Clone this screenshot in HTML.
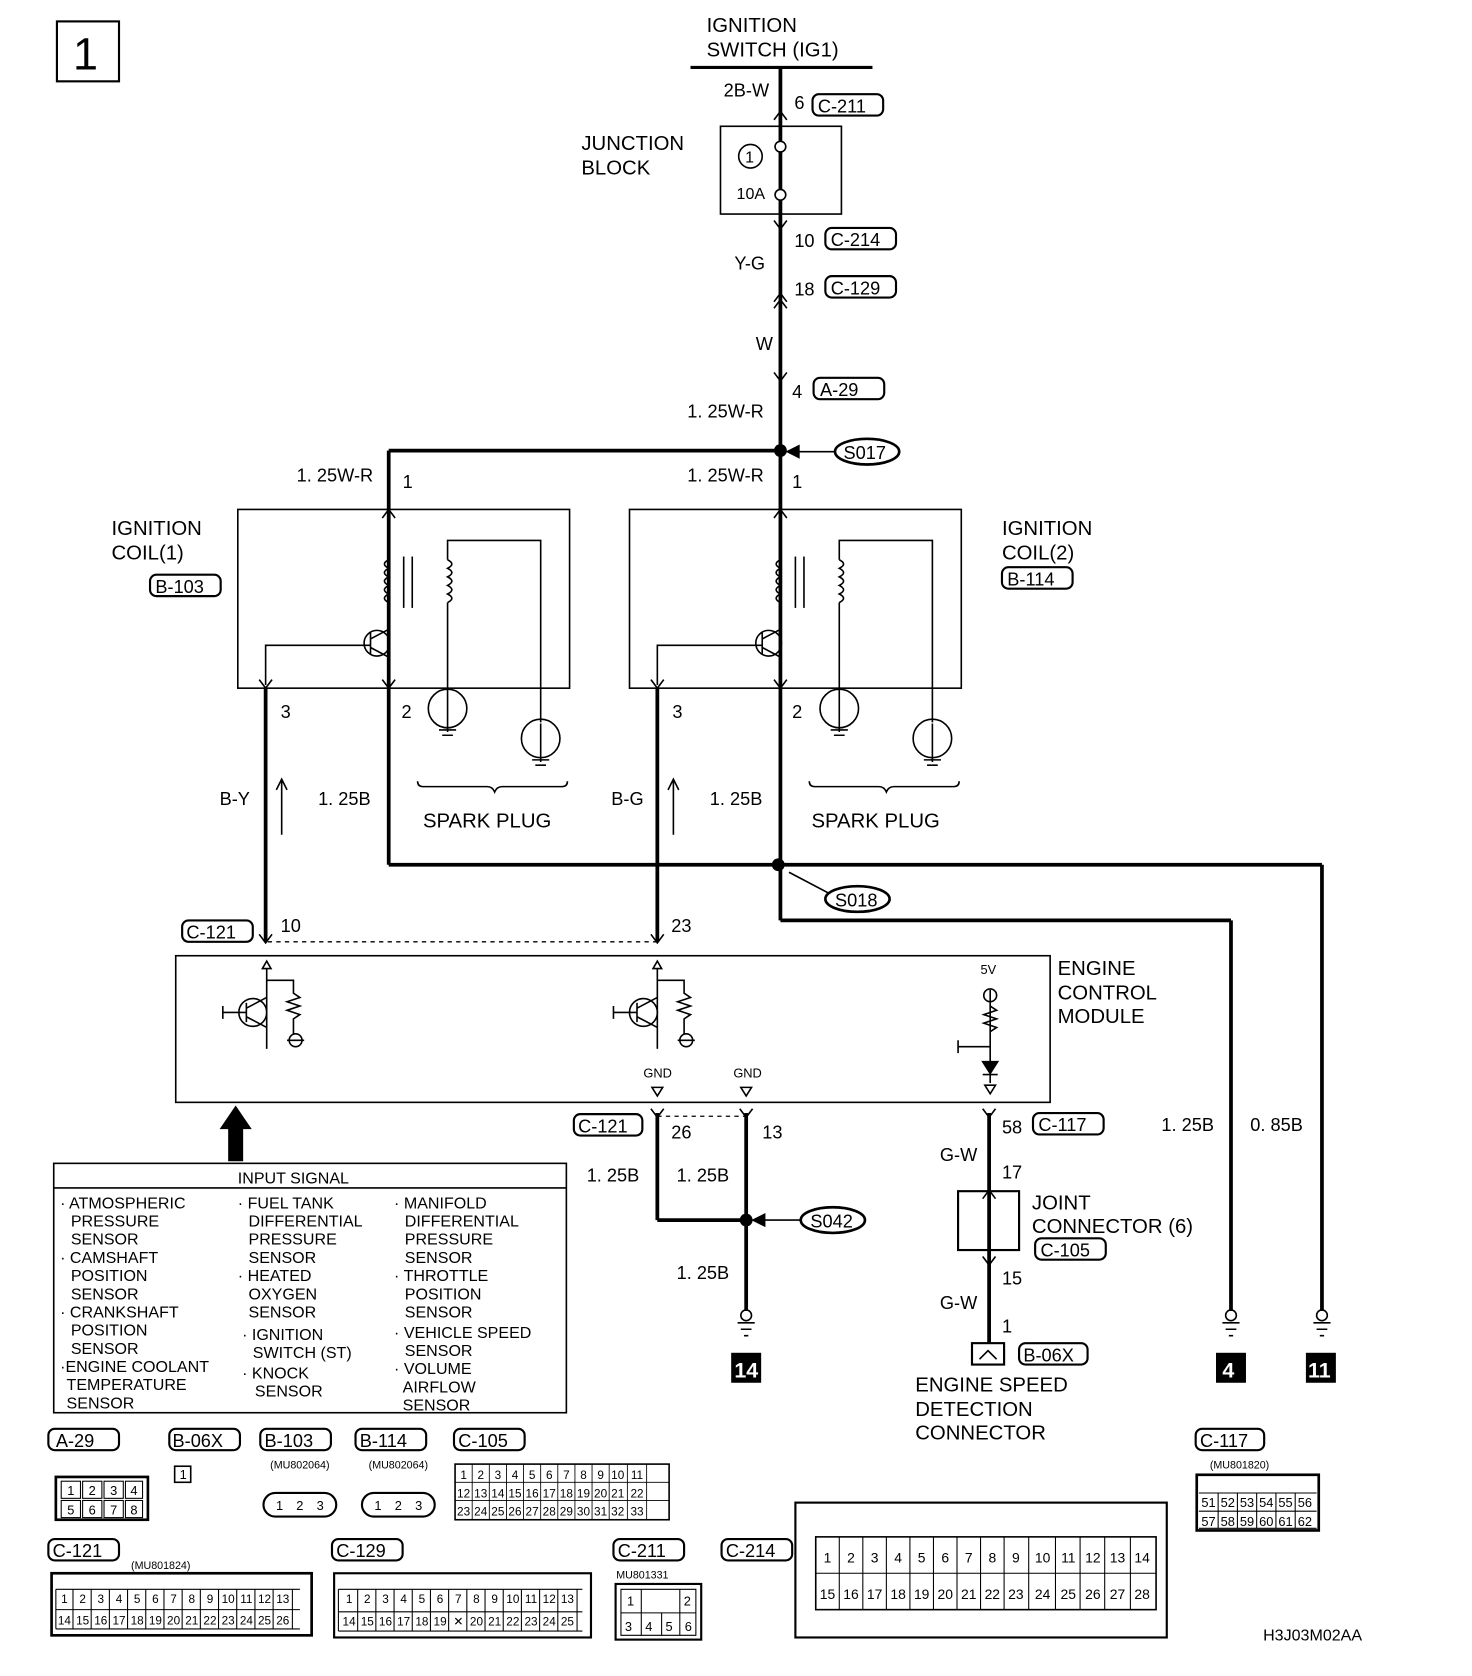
<!DOCTYPE html>
<html><head><meta charset="utf-8"><style>
html,body{margin:0;padding:0;background:#fff}
svg{display:block}
text{font-family:"Liberation Sans",sans-serif;fill:#000}
.l{font-size:19px}
.s{font-size:15px}
.xs{font-size:12px}
.c{font-size:17px;font-family:"Liberation Sans Narrow","Liberation Sans",sans-serif}
</style></head><body>
<svg width="1472" height="1676" viewBox="0 0 1375 1566" xmlns="http://www.w3.org/2000/svg">
<g fill="none" stroke="#000" stroke-width="2">
<rect x="53" y="20" width="58" height="56"/>
<line x1="645" y1="63" x2="815" y2="63" stroke-width="3"/>
<line x1="729" y1="63" x2="729" y2="421" stroke-width="3.5"/>
<rect x="673" y="118" width="113" height="82" stroke-width="1.5"/>
<circle cx="701" cy="146" r="11" stroke-width="1.5"/>
<circle cx="729" cy="137" r="5" fill="#fff" stroke-width="1.5"/>
<circle cx="729" cy="182" r="5" fill="#fff" stroke-width="1.5"/>
<path d="M723 112 L729 104 L735 112 M723 206 L729 214 L735 206 M723 288 L729 280 L735 288 M723 282 L729 274 L735 282 M723 348 L729 356 L735 348" stroke-width="1.5"/>
<line x1="363" y1="421" x2="729" y2="421" stroke-width="3.5"/>
<line x1="363" y1="421" x2="363" y2="808" stroke-width="3.5"/>
<line x1="729" y1="421" x2="729" y2="860" stroke-width="3.5"/>
<line x1="735" y1="422" x2="780" y2="422" stroke-width="1.5"/>
<path d="M736 422 L746 417 L746 427 Z" fill="#000"/>
<ellipse cx="810" cy="422" rx="30" ry="12" stroke-width="2.5"/>
<rect x="222" y="476" width="310" height="167" stroke-width="1.5"/>
<rect x="588" y="476" width="310" height="167" stroke-width="1.5"/>
<g id="coil" stroke-width="1.5">
<path d="M357 484 L363 476 L369 484 M357 635 L363 643 L369 635 M242 635 L248 643 L254 635"/>
<path d="M363 523 q-8 4 0 8 q-8 4 0 8 q-8 4 0 8 q-8 4 0 8 q-8 4 0 8"/>
<line x1="377" y1="520" x2="377" y2="568"/><line x1="385" y1="520" x2="385" y2="568"/>
<path d="M418 523 q8 4 0 8 q8 4 0 8 q8 4 0 8 q8 4 0 8 q8 4 0 8"/>
<path d="M418 523 L418 505 L505 505 L505 675"/>
<line x1="418" y1="563" x2="418" y2="648"/>
<circle cx="352" cy="601" r="12"/>
<path d="M346 591 L346 611 M346 597 L363 588 M346 605 L363 614 M248 640 L248 603 L346 603"/>
<circle cx="418" cy="662" r="18"/><circle cx="505" cy="690" r="18"/>
<path d="M418 648 L418 684 M410 682 L426 682 M413 687 L423 687 M505 676 L505 712 M497 710 L513 710 M500 715 L510 715"/>
<path d="M390 730 q0 5 5 5 L455 735 q5 0 7 5 q2 -5 7 -5 L525 735 q5 0 5 -5"/>
<path d="M263 780 L263 728 M258 738 L263 728 L268 738"/>
</g>
<use href="#coil" transform="translate(366,0)"/>
<line x1="248" y1="643" x2="248" y2="880" stroke-width="3.5"/>
<line x1="614" y1="643" x2="614" y2="880" stroke-width="3.5"/>
<line x1="363" y1="808" x2="1235" y2="808" stroke-width="3.5"/>
<line x1="1235" y1="808" x2="1235" y2="1225" stroke-width="3.5"/>
<line x1="729" y1="860" x2="1150" y2="860" stroke-width="3.5"/>
<line x1="1150" y1="860" x2="1150" y2="1225" stroke-width="3.5"/>
<line x1="737" y1="815" x2="775" y2="835" stroke-width="1.5"/>
<ellipse cx="801" cy="840" rx="30" ry="12" stroke-width="2.5"/>
<line x1="250" y1="880" x2="614" y2="880" stroke-dasharray="4,4" stroke-width="1.2"/>
<path d="M242 873 L248 881 L254 873 M608 873 L614 881 L620 873" stroke-width="1.5"/>
<rect x="164" y="893" width="817" height="137" stroke-width="1.5"/>
<g id="tr" stroke-width="1.5">
<path d="M245 905 L249 898 L253 905 Z"/><line x1="249" y1="905" x2="249" y2="980"/>
<path d="M249 916 L274 916 L274 928 l6 4 l-12 4 l12 4 l-12 4 l12 4 l-6 4 L274 966"/>
<circle cx="276" cy="972" r="6"/><line x1="268" y1="972" x2="284" y2="972"/>
<circle cx="236" cy="946" r="13"/>
<path d="M208 946 L230 946 M208 940 L208 952 M230 937 L230 955 M230 942 L249 932 M230 950 L249 960"/>
</g>
<use href="#tr" transform="translate(365,0)"/>
<path d="M925 925 L925 992 m-6 -62 a6 6 0 1 0 12 0 a6 6 0 1 0 -12 0 M925 940 l6 4 l-12 4 l12 4 l-12 4 l12 4 l-6 4 M895 978 L925 978 M895 972 L895 984 M918 1004 L932 1004 M925 1004 L925 1012 M920 1014 L930 1014 L925 1022 Z" stroke-width="1.5"/>
<path d="M918 992 L932 992 L925 1003 Z" fill="#000" stroke-width="1.5"/>
<path d="M609 1016 L619 1016 L614 1024 Z M692 1016 L702 1016 L697 1024 Z" stroke-width="1.5"/>
<line x1="614" y1="1040" x2="614" y2="1140" stroke-width="3.5"/>
<line x1="614" y1="1140" x2="697" y2="1140" stroke-width="3.5"/>
<line x1="697" y1="1040" x2="697" y2="1225" stroke-width="3.5"/>
<line x1="614" y1="1043" x2="697" y2="1043" stroke-dasharray="4,4" stroke-width="1.2"/>
<path d="M608 1036 L614 1044 L620 1036 M691 1036 L697 1044 L703 1036 M918 1036 L924 1044 L930 1036" stroke-width="1.5"/>
<line x1="705" y1="1140" x2="748" y2="1140" stroke-width="1.5"/>
<path d="M704 1140 L714 1135 L714 1145 Z" fill="#000"/>
<ellipse cx="778" cy="1140" rx="30" ry="12" stroke-width="2.5"/>
<line x1="924" y1="1040" x2="924" y2="1255" stroke-width="3.5"/>
<rect x="895" y="1113" width="57" height="55" stroke-width="2"/>
<path d="M918 1120 L924 1112 L930 1120 M918 1174 L924 1182 L930 1174" stroke-width="1.5"/>
<rect x="908" y="1255" width="30" height="20" stroke-width="2"/>
<path d="M915 1270 L923 1262 L931 1270" stroke-width="1.5"/>
<g id="gnd" stroke-width="1.5"><circle cx="697" cy="1229" r="5"/><path d="M689 1236 L705 1236 M692 1242 L702 1242 M695 1248 L699 1248"/></g>
<use href="#gnd" transform="translate(453,0)"/>
<use href="#gnd" transform="translate(538,0)"/>
<rect x="50" y="1087" width="479" height="233" stroke-width="1.5"/>
<line x1="50" y1="1110" x2="529" y2="1110" stroke-width="1.5"/>
</g>
<path d="M213 1085 L213 1055 L205 1055 L220 1033 L235 1055 L227 1055 L227 1085 Z" fill="#000"/>
<g fill="#000">
<circle cx="729" cy="421" r="6"/><circle cx="727" cy="808" r="6"/><circle cx="697" cy="1140" r="6"/>
<rect x="683" y="1264" width="28" height="28"/><rect x="1136" y="1264" width="28" height="28"/><rect x="1220" y="1264" width="28" height="28"/>
</g>
<g fill="none" stroke="#000" stroke-width="2">
<rect x="759" y="88" width="66" height="20" rx="6"/>
<rect x="771" y="213" width="66" height="20" rx="6"/>
<rect x="771" y="258" width="66" height="20" rx="6"/>
<rect x="760" y="353" width="66" height="20" rx="6"/>
<rect x="140" y="537" width="66" height="20" rx="6"/>
<rect x="936" y="530" width="66" height="20" rx="6"/>
<rect x="170" y="860" width="66" height="20" rx="6"/>
<rect x="536" y="1041" width="64" height="20" rx="6"/>
<rect x="965" y="1040" width="66" height="20" rx="6"/>
<rect x="967" y="1157" width="66" height="20" rx="6"/>
<rect x="952" y="1255" width="64" height="20" rx="6"/>
<rect x="45" y="1335" width="66" height="20" rx="6"/>
<rect x="158" y="1335" width="66" height="20" rx="6"/>
<rect x="243" y="1335" width="66" height="20" rx="6"/>
<rect x="332" y="1335" width="66" height="20" rx="6"/>
<rect x="424" y="1335" width="66" height="20" rx="6"/>
<rect x="1117" y="1335" width="64" height="20" rx="6"/>
<rect x="45" y="1438" width="66" height="20" rx="6"/>
<rect x="310" y="1438" width="66" height="20" rx="6"/>
<rect x="573" y="1438" width="66" height="20" rx="6"/>
<rect x="674" y="1438" width="66" height="20" rx="6"/>
<rect x="52" y="1380" width="86" height="40" stroke-width="2.5"/>
<rect x="163" y="1370" width="15" height="15" stroke-width="1.5"/>
<rect x="246" y="1395" width="68" height="22" rx="11" stroke-width="2"/>
<rect x="338" y="1395" width="68" height="22" rx="11" stroke-width="2"/>
<rect x="425" y="1368" width="200" height="52" stroke-width="1.5"/>
<rect x="1118" y="1378" width="114" height="52" stroke-width="2.5"/>
<rect x="48" y="1470" width="243" height="58" stroke-width="2.5"/>
<rect x="312" y="1470" width="240" height="60" stroke-width="2"/>
<rect x="575" y="1480" width="80" height="52" stroke-width="2"/>
<rect x="743" y="1404" width="347" height="126" stroke-width="2"/>
<rect x="762" y="1436" width="318" height="68" stroke-width="1.5"/>
<g id="g4" stroke-width="1"><rect x="57" y="1384" width="18" height="16"/><rect x="77" y="1384" width="18" height="16"/><rect x="97" y="1384" width="18" height="16"/><rect x="117" y="1384" width="16" height="16"/></g>
<use href="#g4" transform="translate(0,18)"/>
</g>
<g class="xs" text-anchor="middle">
<text x="66" y="1397">1</text><text x="86" y="1397">2</text><text x="106" y="1397">3</text><text x="125" y="1397">4</text>
<text x="66" y="1415">5</text><text x="86" y="1415">6</text><text x="106" y="1415">7</text><text x="125" y="1415">8</text>
<text x="171" y="1382">1</text>
<text x="261" y="1411">1</text><text x="280" y="1411">2</text><text x="299" y="1411">3</text>
<text x="353" y="1411">1</text><text x="372" y="1411">2</text><text x="391" y="1411">3</text>
<text x="280" y="1372" font-size="10">(MU802064)</text><text x="372" y="1372" font-size="10">(MU802064)</text>
<text x="150" y="1466" font-size="10">(MU801824)</text>
<text x="600" y="1475" font-size="10">MU801331</text>
<text x="1158" y="1372" font-size="10">(MU801820)</text>
</g>
<svg x="425" y="1368" width="200" height="52" viewBox="0 0 200 52" overflow="visible"><g font-family="Liberation Sans" font-size="11" text-anchor="middle">
<text x="8" y="14">1</text><text x="24" y="14">2</text><text x="40" y="14">3</text><text x="56" y="14">4</text><text x="72" y="14">5</text><text x="88" y="14">6</text><text x="104" y="14">7</text><text x="120" y="14">8</text><text x="136" y="14">9</text><text x="152" y="14">10</text><text x="170" y="14">11</text>
<text x="8" y="31">12</text><text x="24" y="31">13</text><text x="40" y="31">14</text><text x="56" y="31">15</text><text x="72" y="31">16</text><text x="88" y="31">17</text><text x="104" y="31">18</text><text x="120" y="31">19</text><text x="136" y="31">20</text><text x="152" y="31">21</text><text x="170" y="31">22</text>
<text x="8" y="48">23</text><text x="24" y="48">24</text><text x="40" y="48">25</text><text x="56" y="48">26</text><text x="72" y="48">27</text><text x="88" y="48">28</text><text x="104" y="48">29</text><text x="120" y="48">30</text><text x="136" y="48">31</text><text x="152" y="48">32</text><text x="170" y="48">33</text></g>
<path d="M0 17 H200 M0 34 H200 M16 0 V52 M32 0 V52 M48 0 V52 M64 0 V52 M80 0 V52 M96 0 V52 M112 0 V52 M128 0 V52 M144 0 V52 M161 0 V52 M179 0 V52" stroke="#000" stroke-width="0.8" fill="none"/></svg>
<svg x="1118" y="1378" width="114" height="52" viewBox="0 0 114 52"><g font-family="Liberation Sans" font-size="12" text-anchor="middle">
<text x="11" y="30">51</text><text x="29" y="30">52</text><text x="47" y="30">53</text><text x="65" y="30">54</text><text x="83" y="30">55</text><text x="101" y="30">56</text>
<text x="11" y="48">57</text><text x="29" y="48">58</text><text x="47" y="48">59</text><text x="65" y="48">60</text><text x="83" y="48">61</text><text x="101" y="48">62</text></g>
<path d="M2 17 H112 M2 34 H112 M2 50 H112 M20 17 V50 M38 17 V50 M56 17 V50 M74 17 V50 M92 17 V50" stroke="#000" fill="none"/></svg>
<svg x="48" y="1470" width="243" height="58" viewBox="0 0 243 58"><g font-family="Liberation Sans" font-size="11" text-anchor="middle">
<text x="12" y="28">1</text><text x="29" y="28">2</text><text x="46" y="28">3</text><text x="63" y="28">4</text><text x="80" y="28">5</text><text x="97" y="28">6</text><text x="114" y="28">7</text><text x="131" y="28">8</text><text x="148" y="28">9</text><text x="165" y="28">10</text><text x="182" y="28">11</text><text x="199" y="28">12</text><text x="216" y="28">13</text>
<text x="12" y="48">14</text><text x="29" y="48">15</text><text x="46" y="48">16</text><text x="63" y="48">17</text><text x="80" y="48">18</text><text x="97" y="48">19</text><text x="114" y="48">20</text><text x="131" y="48">21</text><text x="148" y="48">22</text><text x="165" y="48">23</text><text x="182" y="48">24</text><text x="199" y="48">25</text><text x="216" y="48">26</text></g>
<path d="M4 15 H232 M4 34 H232 M4 52 H232 M4 15 V52 M20 15 V52 M37 15 V52 M54 15 V52 M71 15 V52 M88 15 V52 M105 15 V52 M122 15 V52 M139 15 V52 M156 15 V52 M173 15 V52 M190 15 V52 M207 15 V52 M225 15 V52" stroke="#000" stroke-width="1" fill="none"/></svg>
<svg x="312" y="1470" width="240" height="60" viewBox="0 0 240 60"><g font-family="Liberation Sans" font-size="11" text-anchor="middle">
<text x="14" y="28">1</text><text x="31" y="28">2</text><text x="48" y="28">3</text><text x="65" y="28">4</text><text x="82" y="28">5</text><text x="99" y="28">6</text><text x="116" y="28">7</text><text x="133" y="28">8</text><text x="150" y="28">9</text><text x="167" y="28">10</text><text x="184" y="28">11</text><text x="201" y="28">12</text><text x="218" y="28">13</text>
<text x="14" y="49">14</text><text x="31" y="49">15</text><text x="48" y="49">16</text><text x="65" y="49">17</text><text x="82" y="49">18</text><text x="99" y="49">19</text><text x="116" y="49">✕</text><text x="133" y="49">20</text><text x="150" y="49">21</text><text x="167" y="49">22</text><text x="184" y="49">23</text><text x="201" y="49">24</text><text x="218" y="49">25</text></g>
<path d="M4 15 H232 M4 36 H232 M4 54 H232 M4 15 V54 M22 15 V54 M39 15 V54 M56 15 V54 M73 15 V54 M90 15 V54 M107 15 V54 M124 15 V54 M141 15 V54 M158 15 V54 M175 15 V54 M192 15 V54 M209 15 V54 M227 15 V54" stroke="#000" stroke-width="1" fill="none"/></svg>
<svg x="575" y="1480" width="80" height="52" viewBox="0 0 80 52"><g font-family="Liberation Sans" font-size="12" text-anchor="middle">
<text x="14" y="20">1</text><text x="67" y="20">2</text><text x="12" y="44">3</text><text x="31" y="44">4</text><text x="50" y="44">5</text><text x="68" y="44">6</text></g>
<path d="M5 5 H75 V48 H5 Z M5 27 H75 M24 27 V48 M43 27 V48 M60 27 V48 M24 5 V27 M60 5 V27" stroke="#000" fill="none"/></svg>
<svg x="762" y="1436" width="318" height="68" viewBox="0 0 318 68"><g font-family="Liberation Sans" font-size="13" text-anchor="middle">
<text x="11" y="24">1</text><text x="33" y="24">2</text><text x="55" y="24">3</text><text x="77" y="24">4</text><text x="99" y="24">5</text><text x="121" y="24">6</text><text x="143" y="24">7</text><text x="165" y="24">8</text><text x="187" y="24">9</text><text x="212" y="24">10</text><text x="236" y="24">11</text><text x="259" y="24">12</text><text x="282" y="24">13</text><text x="305" y="24">14</text>
<text x="11" y="58">15</text><text x="33" y="58">16</text><text x="55" y="58">17</text><text x="77" y="58">18</text><text x="99" y="58">19</text><text x="121" y="58">20</text><text x="143" y="58">21</text><text x="165" y="58">22</text><text x="187" y="58">23</text><text x="212" y="58">24</text><text x="236" y="58">25</text><text x="259" y="58">26</text><text x="282" y="58">27</text><text x="305" y="58">28</text></g>
<path d="M0 34 H318 M22 0 V68 M44 0 V68 M66 0 V68 M88 0 V68 M110 0 V68 M132 0 V68 M154 0 V68 M176 0 V68 M199 0 V68 M224 0 V68 M247 0 V68 M270 0 V68 M294 0 V68" stroke="#000" fill="none"/></svg>

<text x="68" y="65" font-size="42">1</text>
<text class="l" x="660" y="30">IGNITION</text><text class="l" x="660" y="53">SWITCH (IG1)</text>
<text class="c" x="676" y="90">2B-W</text><text class="c" x="742" y="102">6</text><text class="c" x="764" y="105">C-211</text>
<text class="l" x="543" y="140">JUNCTION</text><text class="l" x="543" y="163">BLOCK</text>
<text class="s" x="696" y="152">1</text><text class="s" x="688" y="186">10A</text>
<text class="c" x="742" y="231">10</text><text class="c" x="776" y="230">C-214</text>
<text class="c" x="686" y="252">Y-G</text>
<text class="c" x="742" y="276">18</text><text class="c" x="776" y="275">C-129</text>
<text class="c" x="706" y="327">W</text>
<text class="c" x="740" y="372">4</text><text class="c" x="766" y="370">A-29</text>
<text class="c" x="642" y="390">1. 25W-R</text>
<text class="c" x="788" y="429">S017</text>
<text class="c" x="277" y="450">1. 25W-R</text><text class="c" x="376" y="456">1</text>
<text class="c" x="642" y="450">1. 25W-R</text><text class="c" x="740" y="456">1</text>
<text class="l" x="104" y="500">IGNITION</text><text class="l" x="104" y="523">COIL(1)</text><text class="c" x="145" y="554">B-103</text>
<text class="l" x="936" y="500">IGNITION</text><text class="l" x="936" y="523">COIL(2)</text><text class="c" x="941" y="547">B-114</text>
<text class="c" x="262" y="671">3</text><text class="c" x="375" y="671">2</text>
<text class="c" x="628" y="671">3</text><text class="c" x="740" y="671">2</text>
<text class="c" x="205" y="752">B-Y</text><text class="c" x="297" y="752">1. 25B</text>
<text class="c" x="571" y="752">B-G</text><text class="c" x="663" y="752">1. 25B</text>
<text class="l" x="395" y="773">SPARK PLUG</text><text class="l" x="758" y="773">SPARK PLUG</text>
<text class="c" x="780" y="847">S018</text>
<text class="c" x="174" y="877">C-121</text><text class="c" x="262" y="871">10</text><text class="c" x="627" y="871">23</text>
<text class="l" x="988" y="911">ENGINE</text><text class="l" x="988" y="934">CONTROL</text><text class="l" x="988" y="956">MODULE</text>
<text class="xs" x="916" y="910">5V</text>
<text class="xs" x="601" y="1007">GND</text><text class="xs" x="685" y="1007">GND</text>
<text class="c" x="540" y="1058">C-121</text><text class="c" x="627" y="1064">26</text><text class="c" x="712" y="1064">13</text>
<text class="c" x="548" y="1104">1. 25B</text><text class="c" x="632" y="1104">1. 25B</text>
<text class="c" x="757" y="1147">S042</text>
<text class="c" x="632" y="1195">1. 25B</text>
<text class="c" x="936" y="1059">58</text><text class="c" x="970" y="1057">C-117</text>
<text class="c" x="878" y="1085">G-W</text><text class="c" x="936" y="1101">17</text>
<text class="l" x="964" y="1130">JOINT</text><text class="l" x="964" y="1152">CONNECTOR (6)</text><text class="c" x="972" y="1174">C-105</text>
<text class="c" x="936" y="1200">15</text><text class="c" x="878" y="1223">G-W</text><text class="c" x="936" y="1245">1</text>
<text class="c" x="956" y="1272">B-06X</text>
<text class="l" x="855" y="1300">ENGINE SPEED</text><text class="l" x="855" y="1323">DETECTION</text><text class="l" x="855" y="1345">CONNECTOR</text>
<text class="c" x="1085" y="1057">1. 25B</text><text class="c" x="1168" y="1057">0. 85B</text>
<text x="686" y="1287" font-size="20" font-weight="bold" style="fill:#fff">14</text>
<text x="1142" y="1287" font-size="20" font-weight="bold" style="fill:#fff">4</text>
<text x="1222" y="1287" font-size="20" font-weight="bold" style="fill:#fff">11</text>
<text class="s" x="222" y="1106">INPUT SIGNAL</text>
<g class="s">
<text x="56" y="1129">· ATMOSPHERIC</text><text x="66" y="1146">PRESSURE</text><text x="66" y="1163">SENSOR</text>
<text x="56" y="1180">· CAMSHAFT</text><text x="66" y="1197">POSITION</text><text x="66" y="1214">SENSOR</text>
<text x="56" y="1231">· CRANKSHAFT</text><text x="66" y="1248">POSITION</text><text x="66" y="1265">SENSOR</text>
<text x="56" y="1282">·ENGINE COOLANT</text><text x="62" y="1299">TEMPERATURE</text><text x="62" y="1316">SENSOR</text>
<text x="222" y="1129">· FUEL TANK</text><text x="232" y="1146">DIFFERENTIAL</text><text x="232" y="1163">PRESSURE</text><text x="232" y="1180">SENSOR</text>
<text x="222" y="1197">· HEATED</text><text x="232" y="1214">OXYGEN</text><text x="232" y="1231">SENSOR</text>
<text x="226" y="1252">· IGNITION</text><text x="236" y="1269">SWITCH (ST)</text><text x="226" y="1288">· KNOCK</text><text x="238" y="1305">SENSOR</text>
<text x="368" y="1129">· MANIFOLD</text><text x="378" y="1146">DIFFERENTIAL</text><text x="378" y="1163">PRESSURE</text><text x="378" y="1180">SENSOR</text>
<text x="368" y="1197">· THROTTLE</text><text x="378" y="1214">POSITION</text><text x="378" y="1231">SENSOR</text>
<text x="368" y="1250">· VEHICLE SPEED</text><text x="378" y="1267">SENSOR</text><text x="368" y="1284">· VOLUME</text><text x="376" y="1301">AIRFLOW</text><text x="376" y="1318">SENSOR</text>
</g>
<text class="c" x="52" y="1352">A-29</text><text class="c" x="161" y="1352">B-06X</text><text class="c" x="247" y="1352">B-103</text>
<text class="c" x="336" y="1352">B-114</text><text class="c" x="428" y="1352">C-105</text><text class="c" x="1121" y="1352">C-117</text>
<text class="c" x="49" y="1455">C-121</text><text class="c" x="314" y="1455">C-129</text><text class="c" x="577" y="1455">C-211</text><text class="c" x="678" y="1455">C-214</text>
<text class="s" x="1180" y="1533">H3J03M02AA</text>
</svg>
</body></html>
